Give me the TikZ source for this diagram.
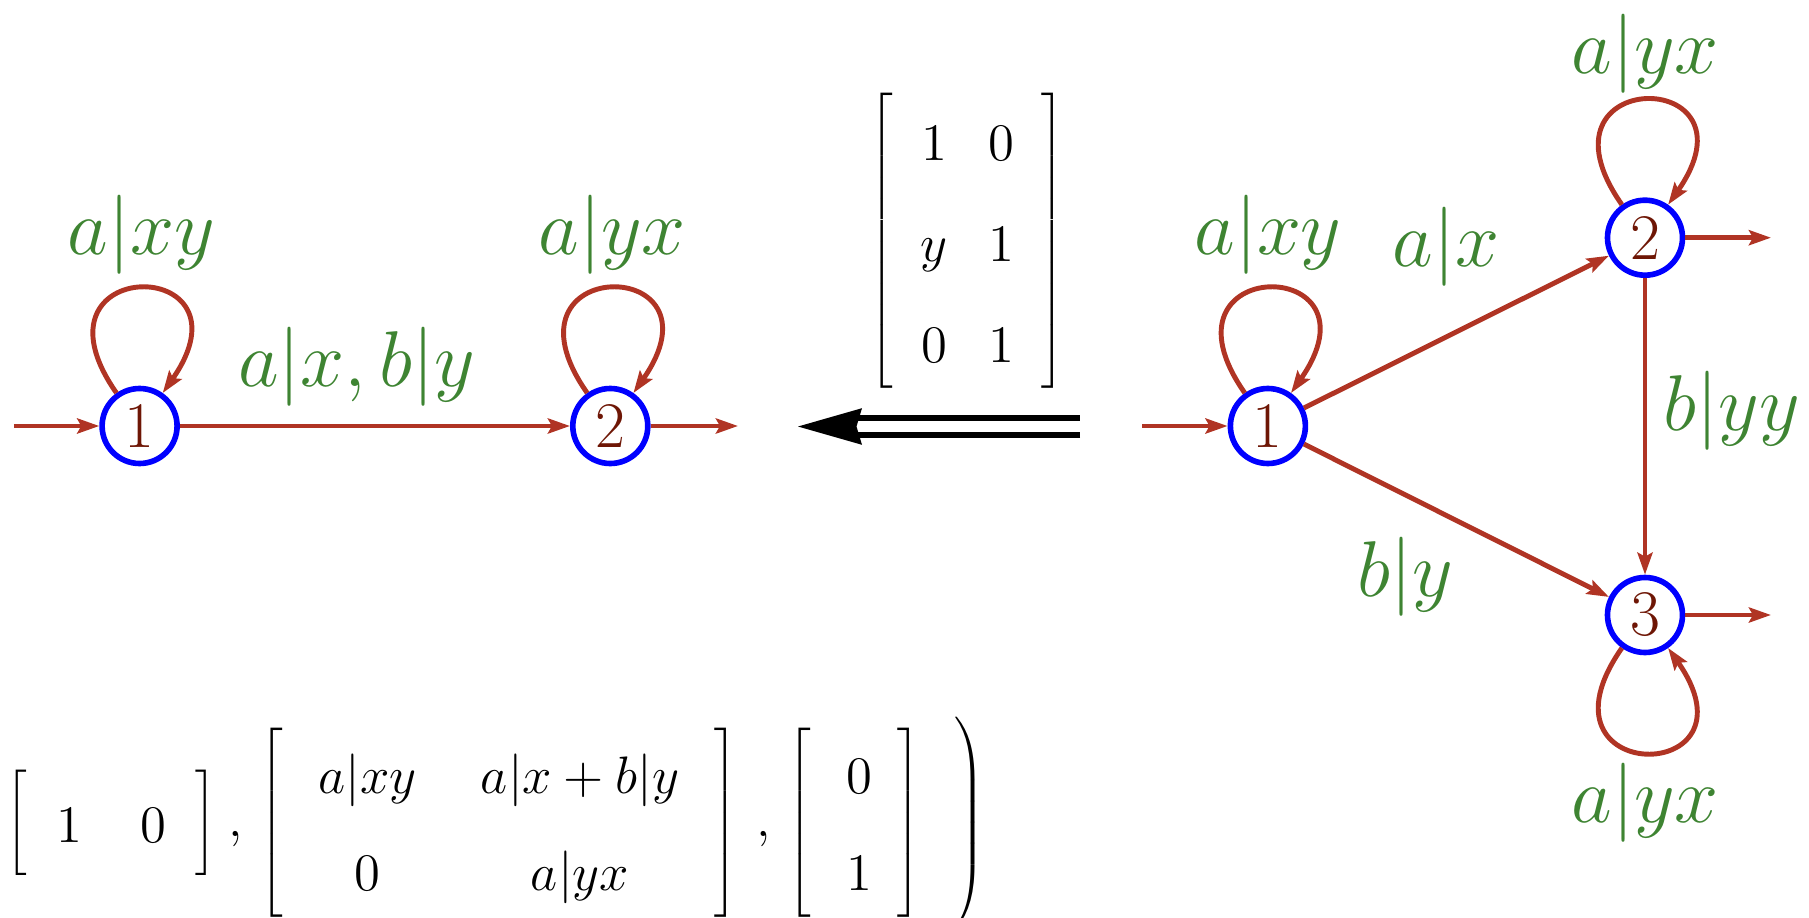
\RequirePackage{fix-cm}
\documentclass[tikz,border=0pt]{standalone}
\usetikzlibrary{arrows.meta}
\definecolor{edgered}{RGB}{176,52,36}
\definecolor{lblgreen}{RGB}{62,132,50}
\definecolor{numred}{RGB}{110,22,5}
\begin{document}
\begin{tikzpicture}[
  state/.style={circle, draw=blue, line width=1.6pt, minimum size=0.75cm, inner sep=0pt, text=numred, font=\fontsize{18.5}{22}\selectfont},
  trans/.style={draw=edgered, line width=1.4pt, -{Stealth[length=2.2mm,width=1.5mm,inset=0.4mm]}},
  lbl/.style={text=lblgreen, inner sep=0pt, font=\fontsize{22.5}{27}\selectfont},
  loopedge/.style={trans, looseness=1, min distance=1.7cm},
  mat/.style={inner sep=0pt, font=\fontsize{15}{18}\selectfont},
]
\useasboundingbox (0,0) rectangle (18.09,9.17);

% left automaton
\node[state] (L1) at (1.396,4.91) {1};
\node[state] (L2) at (6.103,4.91) {2};
\coordinate (Lin) at (0.138,4.91);
\coordinate (Lout) at (7.38,4.91);
\draw[trans] (Lin) -- (L1);
\draw[trans] (L1) -- (L2);
\draw[trans] (L2) -- (Lout);
\draw[loopedge] (L1) to[out=125,in=55] (L1);
\draw[loopedge] (L2) to[out=125,in=55] (L2);
\node[lbl] (lL1) at (1.415,6.82) {$a|xy$};
\node[lbl] (lL2) at (6.12,6.82) {$a|yx$};
\node[lbl] (lL12) at (3.565,5.50) {$a|x,b|y$};

% top matrix
\node[mat] (M) at (9.673,6.759) {$\renewcommand{\arraystretch}{1.6}\setlength{\arraycolsep}{5.75pt}\left[\hspace{2pt}\begin{array}{cc}1&0\\y&1\\0&1\end{array}\hspace{2pt}\right]$};

% double arrow
\coordinate (Ds) at (10.80,4.905);
\coordinate (De) at (8.58,4.905);
\coordinate (Dt) at (7.98,4.905);
\draw[line width=0.06cm, double=white, double distance=0.107cm] (Ds) -- (De);
\fill[black] (Dt) -- ([shift={(0.64,0.183)}]Dt) -- ([shift={(0.585,0)}]Dt) -- ([shift={(0.64,-0.183)}]Dt) -- cycle;

% right automaton
\node[state] (R1) at (12.679,4.91) {1};
\node[state] (R2) at (16.45,6.793) {2};
\node[state] (R3) at (16.45,3.02) {3};
\coordinate (Rin) at (11.42,4.91);
\coordinate (R2out) at (17.71,6.793);
\coordinate (R3out) at (17.71,3.02);
\draw[trans] (Rin) -- (R1);
\draw[trans] (R1) -- (R2);
\draw[trans] (R1) -- (R3);
\draw[trans] (R2) -- (R3);
\draw[trans] (R2) -- (R2out);
\draw[trans] (R3) -- (R3out);
\draw[loopedge] (R1) to[out=125,in=55] (R1);
\draw[loopedge] (R2) to[out=125,in=55] (R2);
\draw[loopedge] (R3) to[out=-125,in=-55] (R3);
\node[lbl] (lR1) at (12.68,6.82) {$a|xy$};
\node[lbl] (lR12) at (14.46,6.70) {$a|x$};
\node[lbl] (lR13) at (14.05,3.40) {$b|y$};
\node[lbl] (lR23) at (17.32,5.06) {$b|yy$};
\node[lbl] (lR2) at (16.45,8.63) {$a|yx$};
\node[lbl] (lR3) at (16.45,1.14) {$a|yx$};

% bottom expression
\node[mat, anchor=base west] (B) at (-0.07,0.81) {$\renewcommand{\arraystretch}{1.53}\setlength{\arraycolsep}{8.3pt}\left.\rule[-28pt]{0pt}{63.3pt}\left[\begin{array}{cc}1&0\end{array}\right]\hspace{1.1pt},\hspace{2.3pt}\left[\hspace{1.7pt}\begin{array}{c@{\hspace{18.3pt}}c}a|xy&a|x+b|y\\0&a|yx\end{array}\hspace{1.7pt}\right]\hspace{2.7pt},\hspace{2.3pt}\left[\hspace{2pt}\begin{array}{c}0\\1\end{array}\hspace{-1.2pt}\right]\hspace{9.6pt}\right)$};
\end{tikzpicture}
\end{document}
